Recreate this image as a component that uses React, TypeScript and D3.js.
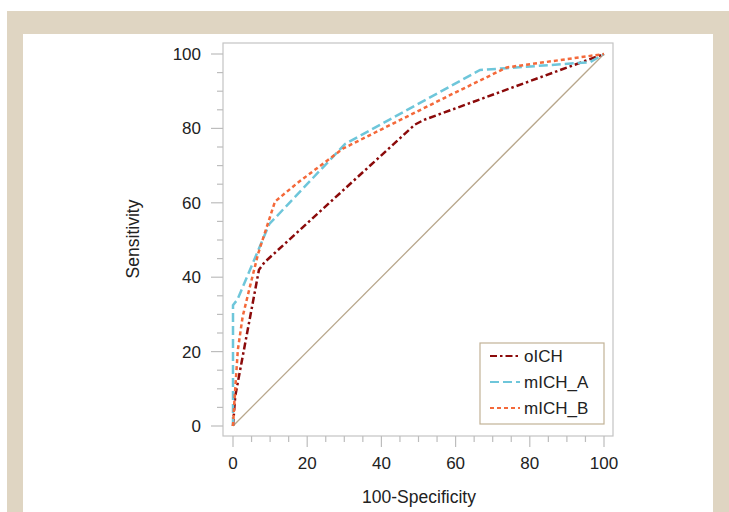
import React from "react";
import * as d3 from "d3";

const seriesNames = ["oICH", "mICH_A", "mICH_B"];
const oICH_x = [0, 0.6, 7, 8.5, 49, 51.5, 100];
const oICH_y = [0, 8, 42, 44, 81, 82.3, 100];
const mICHA_x = [0, 0, 1.2, 9.8, 30.2, 66.6, 73.8, 96.2, 100];
const mICHA_y = [0, 32.5, 34, 54.3, 75.8, 95.7, 96.2, 97.8, 100];
const mICHB_x = [0, 0.4, 1.3, 2.6, 4.6, 6.8, 11.3, 17.2, 29.7, 57.6, 73.8, 100];
const mICHB_y = [0, 7, 20.4, 29.4, 37.6, 46.4, 60.3, 65.2, 74.6, 88.5, 96.4, 100];
const xTicks = [0, 20, 40, 60, 80, 100];
const yTicks = [0, 20, 40, 60, 80, 100];
const minorTicks = d3.range(0, 101, 5);

const colors = ["#8b0a0a", "#6ec6da", "#f4693a"];
const dashes = ["7,3,2.5,3", "9,4", "4,3"];

export default function App() {
  const W = 729, H = 512;
  const x = d3.scaleLinear().domain([0, 100]).range([233, 604]);
  const y = d3.scaleLinear().domain([0, 100]).range([426, 54]);
  const frame = { x0: 223, x1: 613, y0: 43, y1: 436 };
  const line = d3.line<[number, number]>().x(d => x(d[0])).y(d => y(d[1]));
  const data: [number, number][][] = [
    oICH_x.map((v, i) => [v, oICH_y[i]]),
    mICHA_x.map((v, i) => [v, mICHA_y[i]]),
    mICHB_x.map((v, i) => [v, mICHB_y[i]]),
  ];
  const font = "'Liberation Sans', Arial, sans-serif";
  const tickColor = "#bdbdbd";
  const legendY = [356, 382, 408];
  const fs = 17;
  return (
    <svg width={W} height={H} style={{ position: "absolute", left: 0, top: 0 }} fontFamily={font}>
      <rect x={0} y={0} width={W} height={H} fill="#ffffff" />
      <rect x={7} y={11} width={722} height={501} fill="#dfd5c2" />
      <rect x={23} y={34} width={690} height={478} fill="#ffffff" />
      {/* frame */}
      <rect x={frame.x0} y={frame.y0} width={frame.x1 - frame.x0} height={frame.y1 - frame.y0} fill="none" stroke="#c4c4c4" strokeWidth={1.2} />
      {/* minor & major ticks */}
      {minorTicks.map(t => {
        const major = t % 20 === 0;
        return (
          <g key={"t" + t}>
            <line x1={frame.x0 - (major ? 12 : 6)} x2={frame.x0} y1={y(t)} y2={y(t)} stroke={tickColor} strokeWidth={1.2} />
            <line y1={frame.y1} y2={frame.y1 + (major ? 11 : 6)} x1={x(t)} x2={x(t)} stroke={tickColor} strokeWidth={1.2} />
          </g>
        );
      })}
      {yTicks.map(t => (
        <text key={"yl" + t} x={201} y={y(t)} dy="0.35em" textAnchor="end" fontSize={fs} fill="#222">{t}</text>
      ))}
      {xTicks.map(t => (
        <text key={"xl" + t} x={x(t)} y={469} textAnchor="middle" fontSize={fs} fill="#222">{t}</text>
      ))}
      <text x={419} y={503} textAnchor="middle" fontSize={17.5} fill="#222">100-Specificity</text>
      <text transform={`translate(139,239) rotate(-90)`} textAnchor="middle" fontSize={17.5} fill="#222">Sensitivity</text>
      {/* diagonal */}
      <line x1={x(0)} y1={y(0)} x2={x(100)} y2={y(100)} stroke="#b8a78c" strokeWidth={1.3} />
      {data.map((d, i) => (
        <path key={"s" + i} d={line(d) || ""} fill="none" stroke={colors[i]} strokeWidth={2.5} strokeDasharray={dashes[i]} />
      ))}
      {/* legend */}
      <rect x={480} y={343} width={124} height={81} fill="#ffffff" stroke="#c2b297" strokeWidth={1.2} />
      {seriesNames.map((n, i) => (
        <g key={"l" + i}>
          <line x1={490} x2={520} y1={legendY[i]} y2={legendY[i]} stroke={colors[i]} strokeWidth={2.2} strokeDasharray={dashes[i]} />
          <text x={524} y={legendY[i]} dy="0.35em" fontSize={17} fill="#222">{n}</text>
        </g>
      ))}
    </svg>
  );
}
